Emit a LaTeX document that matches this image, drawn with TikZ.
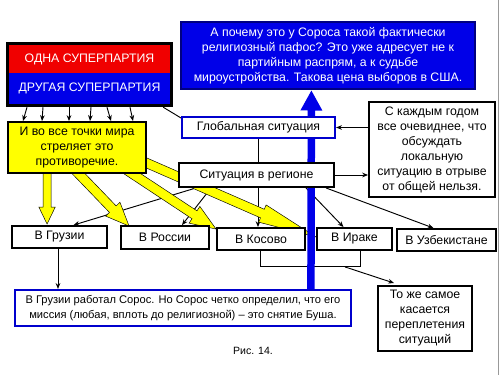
\documentclass[tikz,border=0pt]{standalone}
\usepackage{fontspec}
\setmainfont{Liberation Sans}
\usetikzlibrary{calc,arrows.meta}
\definecolor{rb}{RGB}{240,0,0}
\definecolor{bb}{RGB}{0,0,232}
\definecolor{yb}{RGB}{255,255,0}
\definecolor{bd}{RGB}{0,0,205}
\pgfdeclarelayer{bg}
\pgfsetlayers{bg,main}
\newcommand\blockarrow[6]{%
 \path[#1] let \p1=#2, \p2=#3,
 \n1={atan2(\y2-\y1,\x2-\x1)}, \n2={veclen(\x2-\x1,\y2-\y1)} in
 (\p1) ++(\n1+90:#4) -- ++(\n1:{\n2*1pt-#6}) -- ++(\n1+90:{#5-#4}) -- (\p2)
 -- ($(\p2)+(\n1+180:#6)+(\n1-90:#5)$) -- ++(\n1+90:{#5-#4}) -- ++(\n1+180:{\n2*1pt-#6}) -- cycle;}
\begin{document}
\begin{tikzpicture}[x=0.03cm,y=-0.03cm,
 every node/.style={font=\fontsize{10.5}{12.8}\selectfont, inner sep=0pt, align=center},
 bx/.style={draw=black, line width=1.6pt, fill=white},
 bbx/.style={draw=bd, line width=1.8pt, fill=white},
 ln/.style={line width=0.8pt},
 arr/.style={line width=0.8pt, -{Stealth[length=5pt,width=4pt]}},
 yarr/.style={fill=yb, draw=black, line width=0.4pt},
 barr/.style={fill=bb}]
\useasboundingbox (0,0) rectangle (500,375);
\draw[black!40, line width=1.2pt] (498.5,0) -- (498.5,375);
% top-left party box
\node[fill=black, minimum width=5.01cm, minimum height=1.95cm] (party) at (89.5,74.5) {};
\node[fill=rb, text=white, minimum width=4.83cm, minimum height=0.84cm] (one) at (89.5,59) {ОДНА СУПЕРПАРТИЯ};
\node[fill=bb, text=white, minimum width=4.83cm, minimum height=0.93cm] (two) at (89.5,88.5) {ДРУГАЯ СУПЕРПАРТИЯ};
% yellow box
\node[draw=black, line width=1.6pt, fill=yb, minimum width=4.14cm, minimum height=1.53cm] (yel) at (77,147.5)
 {И во все точки мира\\ стреляет это\\ противоречие.};
% top blue box
\node[fill=bb, draw=black!50!blue, line width=1pt, text=white, minimum width=8.82cm, minimum height=2.01cm] (topq) at (328,55.5)
 {А почему это у Сороса такой фактически\\ религиозный пафос? Это уже адресует не к\\ партийным распрям, а к судьбе\\ мироустройства. Такова цена выборов в США.};
\node[bbx, minimum width=4.59cm, minimum height=0.63cm] (glob) at (258.5,127.5) {Глобальная ситуация};
\node[bx, minimum width=3.78cm, minimum height=2.85cm] (each) at (432,149.5)
 {С каждым годом\\ все очевиднее, что\\ обсуждать\\ локальную\\ ситуацию в отрыве\\ от общей нельзя.};
\node[bx, minimum width=4.65cm, minimum height=0.72cm] (reg) at (256.5,175) {Ситуация в регионе};
\node[bx, minimum width=2.85cm, minimum height=0.66cm] (geo) at (59.5,237) {В Грузии};
\node[bx, minimum width=2.64cm, minimum height=0.69cm] (rus) at (165,237.5) {В России};
\node[bx, minimum width=2.64cm, minimum height=0.66cm] (kos) at (261,239) {В Косово};
\node[bx, minimum width=2.25cm, minimum height=0.66cm] (irq) at (354.5,239) {В Ираке};
\node[bx, minimum width=2.97cm, minimum height=0.66cm] (uzb) at (446.5,240) {В Узбекистане};
\node[bbx, minimum width=10.08cm, minimum height=1.08cm, font=\fontsize{9.5}{12.8}\selectfont] (soros) at (183,308)
 {В Грузии работал Сорос. Но Сорос четко определил, что его\\ миссия (любая, вплоть до религиозной) -- это снятие Буша.};
\node[bx, minimum width=2.82cm, minimum height=1.95cm] (same) at (425,318.5)
 {То же самое\\ касается\\ переплетения\\ ситуаций};
\node[font=\fontsize{9}{11}\selectfont] (fig) at (253,351) {Рис. 14.};
\begin{pgfonlayer}{bg}
 \foreach \a/\b in {27/23, 43/42, 69/69, 91/90, 107/111, 130/133}
  \draw[arr] (party.south -| \a,0) -- (yel.north -| \b,0);
 \draw[ln] ($(party.south east)+(-10,0)$) -- ($(glob.north west)+(0,2)$);
 \draw[ln] (glob.south) -- (glob.south |- reg.north);
 \draw[arr] (each.west |- glob.east) -- (glob.east);
 \draw[arr] (reg.east) -- (reg.east -| each.west);
 \draw[arr] ($(reg.south west)+(18,0)$) -- ($(geo.north)+(14,0)$);
 \draw[arr] ($(reg.south west)+(33,0)$) -- ($(rus.north)+(17,0)$);
 \draw[arr] ($(reg.south)+(1.5,0)$) -- ($(kos.north)+(-3,0)$);
 \draw[arr] ($(reg.south east)+(-29,0)$) -- ($(irq.north)+(-11,0)$);
 \draw[arr] ($(reg.south east)+(-9,0)$) -- ($(uzb.north)+(-13,0)$);
 \coordinate (gs) at ($(geo.south)+(-1.5,0)$);
 \draw[arr] (gs) -- (gs |- soros.north);
 \draw[ln] ($(kos.south)+(-1,0)$) -- ++(0,16) -| ($(irq.south)+(5.5,0)$);
 \coordinate (br) at ($(kos.south)+(84,16)$);
 \draw[arr] (br) -- ($(same.north west)+(17,-2)$);
 % yellow arrows
 \blockarrow{yarr}{($(yel.south west)+(40,-3)$)}{($(geo.north west)+(36,-1)$)}{3.4pt}{7pt}{14.5pt}
 \blockarrow{yarr}{($(yel.south west)+(67,-5)$)}{($(rus.north west)+(9,1)$)}{4pt}{8.5pt}{20pt}
 \blockarrow{yarr}{($(yel.south west)+(118,-5)$)}{($(kos.north west)+(0,2)$)}{4pt}{8.5pt}{22pt}
 \blockarrow{yarr}{($(yel.east)+(-6,13)$)}{($(irq.west)+(0,-2)$)}{4pt}{8pt}{50pt}
 % blue arrow
 \blockarrow{barr}{($(soros.north west)+(297,0)$)}{($(topq.south west)+(131,1)$)}{3.2pt}{9.4pt}{17pt}
\end{pgfonlayer}
\end{tikzpicture}
\end{document}
